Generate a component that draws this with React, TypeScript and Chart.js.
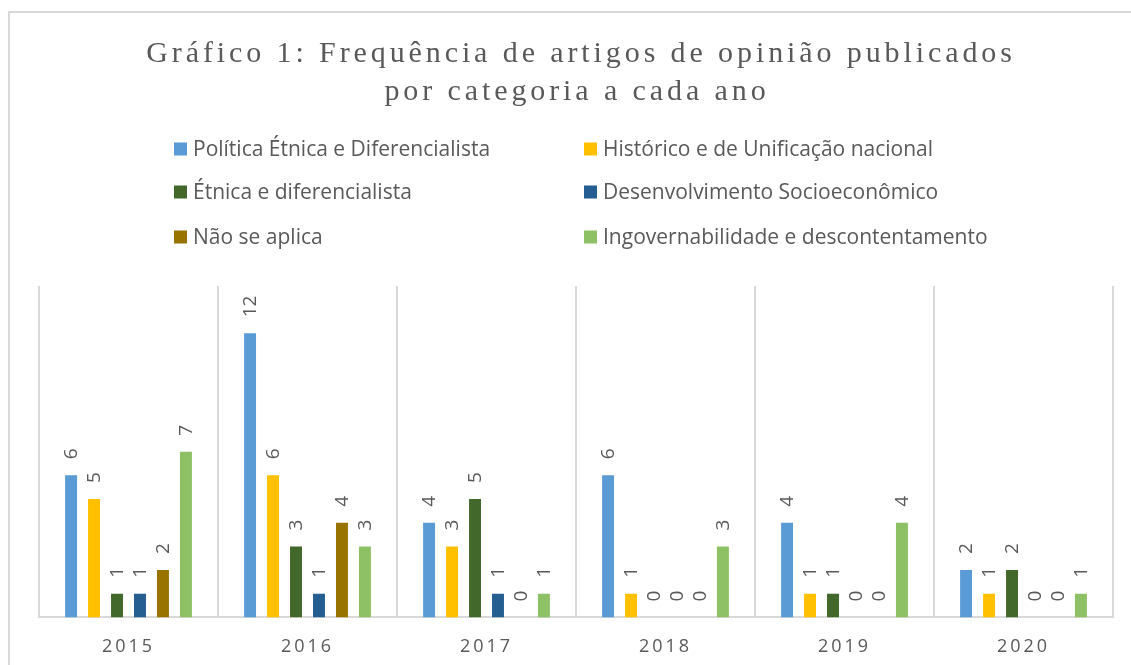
import React, { useEffect, useRef } from "react";
import { Chart, registerables } from "chart.js";

Chart.register(...registerables);

const years = ["2015", "2016", "2017", "2018", "2019", "2020"];
const seriesNames = [
  "Política Étnica e Diferencialista",
  "Histórico e de Unificação nacional",
  "Étnica e diferencialista",
  "Desenvolvimento Socioeconômico",
  "Não se aplica",
  "Ingovernabilidade e descontentamento",
];
const seriesColors = ["#5B9BD5", "#FFC000", "#43682B", "#255E91", "#997300", "#8EC065"];
const politicaEtnica = [6, 12, 4, 6, 4, 2];
const historico = [5, 6, 3, 1, 1, 1];
const etnicaDiferencialista = [1, 3, 5, 0, 1, 2];
const desenvolvimento = [1, 1, 1, 0, 0, 0];
const naoSeAplica = [2, 4, 0, 0, 0, 0];
const ingovernabilidade = [7, 3, 1, 3, 4, 1];
const titleLines = ["Gráfico 1: Frequência de artigos de opinião publicados", "por categoria a cada ano"];

const TEXT = "#595959";
const GRID = "#D9D9D9";

const customPlugin = {
  id: "customDecor",
  beforeDraw(chart: any) {
    const ctx = chart.ctx;
    ctx.save();
    ctx.strokeStyle = GRID;
    ctx.lineWidth = 2;
    ctx.strokeRect(9, 12, 1300, 1000);
    ctx.restore();
    ctx.letterSpacing = "3px";
  },
  beforeDatasetsDraw(chart: any) {
    chart.ctx.letterSpacing = "0px";
  },
  afterDraw(chart: any) {
    const ctx = chart.ctx;
    ctx.save();
    // title
    ctx.letterSpacing = "3.9px";
    ctx.fillStyle = TEXT;
    ctx.font = '30px "Liberation Serif"';
    ctx.textAlign = "center";
    ctx.textBaseline = "alphabetic";
    ctx.fillText(titleLines[0], 581, 62);
    ctx.fillText(titleLines[1], 577, 100);
    // legend
    ctx.letterSpacing = "0px";
    ctx.font = '21px "Open Sans"';
    ctx.textAlign = "left";
    ctx.textBaseline = "middle";
    const colX = [174, 584];
    const rowY = [149, 192, 237];
    chart.data.datasets.forEach((ds: any, i: number) => {
      const x = colX[i % 2];
      const y = rowY[Math.floor(i / 2)];
      ctx.fillStyle = ds.backgroundColor;
      ctx.fillRect(x, y - 6.5, 13, 13);
      ctx.fillStyle = TEXT;
      ctx.fillText(ds.label, x + 19, y + 1);
    });
    // data labels
    ctx.font = '19px "Open Sans"';
    ctx.fillStyle = TEXT;
    ctx.textAlign = "left";
    ctx.textBaseline = "middle";
    chart.data.datasets.forEach((ds: any, di: number) => {
      const meta = chart.getDatasetMeta(di);
      meta.data.forEach((bar: any, j: number) => {
        ctx.save();
        ctx.translate(bar.x + 1, bar.y - 16);
        ctx.rotate(-Math.PI / 2);
        ctx.fillText(String(ds.data[j]), 0, 0);
        ctx.restore();
      });
    });
    ctx.restore();
  },
};

export default function App() {
  const ref = useRef<HTMLCanvasElement | null>(null);
  useEffect(() => {
    if (!ref.current) return;
    const seriesData = [politicaEtnica, historico, etnicaDiferencialista, desenvolvimento, naoSeAplica, ingovernabilidade];
    const chart = new Chart(ref.current, {
      type: "bar",
      data: {
        labels: years,
        datasets: seriesData.map((d, i) => ({
          label: seriesNames[i],
          data: d,
          backgroundColor: seriesColors[i],
          borderWidth: 0,
          categoryPercentage: 0.77,
          barPercentage: 0.52,
        })),
      },
      options: {
        responsive: false,
        animation: false,
        devicePixelRatio: 1,
        layout: { padding: { left: 39, right: 18, top: 286, bottom: -12 } },
        plugins: { legend: { display: false }, title: { display: false }, tooltip: { enabled: false } },
        scales: {
          x: {
            grid: { display: true, color: GRID, lineWidth: 2, drawTicks: false, offset: true },
            border: { display: true, color: GRID, width: 2 },
            ticks: { color: TEXT, font: { family: "Open Sans", size: 18 }, padding: 19 },
          },
          y: { display: false, min: 0, max: 14 },
        },
      },
      plugins: [customPlugin],
    });
    return () => chart.destroy();
  }, []);
  return (
    <div style={{ position: "fixed", left: 0, top: 0, width: 1131, height: 665, background: "#fff" }}>
      <canvas ref={ref} width={1131} height={665} style={{ display: "block", width: 1131, height: 665 }} />
    </div>
  );
}
